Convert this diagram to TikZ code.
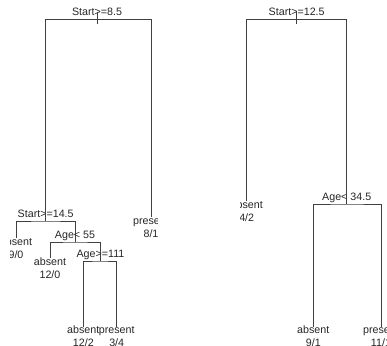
\documentclass[tikz,border=0pt]{standalone}
\usepackage{fontspec}
\setmainfont{Liberation Sans}
\usetikzlibrary{positioning}

\begin{document}
\begin{tikzpicture}[
    x=1pt, y=-1pt,
    every node/.style={font=\fontsize{10.7}{12}\selectfont, text=black!85, inner sep=0pt},
    branch/.style={draw=black!75, line width=0.9pt},
    splitlabel/.style={anchor=base, yshift=4pt},
    leafclass/.style={anchor=base, yshift=-7pt},
    leafcount/.style={anchor=base, yshift=-13pt}
]
\useasboundingbox (0,0) rectangle (387,345);

% left tree
\begin{scope}
\clip (10,0) rectangle (157,345);
\coordinate (r1) at (97,19.5);
\coordinate (s1) at (45.7,221);
\coordinate (p1) at (151,217);
\coordinate (a1) at (16,238);
\coordinate (s2) at (75,242);
\coordinate (a2) at (50,258);
\coordinate (s3) at (100.5,261);
\coordinate (a3) at (83.3,326.7);
\coordinate (p3) at (116.7,326.7);

\node[splitlabel] (r1l) at (r1) {Start>=8.5};
\node[splitlabel] (s1l) at (s1) {Start>=14.5};
\node[splitlabel] (s2l) at (s2) {Age< 55};
\node[splitlabel] (s3l) at (s3) {Age>=111};

\draw[branch] ([yshift=7pt]r1) -- ([yshift=-4.5pt]r1);
\draw[branch] (s1) |- (r1) -| (p1);
\draw[branch] (a1) |- (s1) -| (s2);
\draw[branch] (a2) |- (s2) -| (s3);
\draw[branch] (a3) |- (s3) -| (p3);

\node[leafclass] (p1c) at (p1) {present};
\node[leafcount] (p1n) at (p1c.base) {8/1};
\node[leafclass] (a1c) at (a1) {absent};
\node[leafcount] (a1n) at (a1c.base) {9/0};
\node[leafclass] (a2c) at (a2) {absent};
\node[leafcount] (a2n) at (a2c.base) {12/0};
\node[leafclass] (a3c) at (a3) {absent};
\node[leafcount] (a3n) at (a3c.base) {12/2};
\node[leafclass] (p3c) at (p3) {present};
\node[leafcount] (p3n) at (p3c.base) {3/4};
\end{scope}

% right tree
\begin{scope}
\clip (240,0) rectangle (387,345);
\coordinate (r2) at (296.7,19.5);
\coordinate (a4) at (246.7,201);
\coordinate (s4) at (346.7,204);
\coordinate (a5) at (313.3,326.7);
\coordinate (p5) at (381,326.7);

\node[splitlabel] (r2l) at (r2) {Start>=12.5};
\node[splitlabel] (s4l) at (s4) {Age< 34.5};

\draw[branch] ([yshift=7pt]r2) -- ([yshift=-4.5pt]r2);
\draw[branch] (a4) |- (r2) -| (s4);
\draw[branch] (a5) |- (s4) -| (p5);

\node[leafclass] (a4c) at (a4) {absent};
\node[leafcount] (a4n) at (a4c.base) {4/2};
\node[leafclass] (a5c) at (a5) {absent};
\node[leafcount] (a5n) at (a5c.base) {9/1};
\node[leafclass] (p5c) at (p5) {present};
\node[leafcount] (p5n) at (p5c.base) {11/1};
\end{scope}

\end{tikzpicture}
\end{document}
